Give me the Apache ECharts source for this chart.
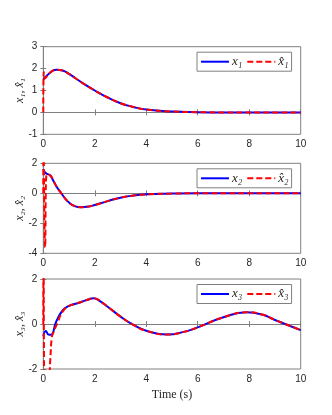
<!DOCTYPE html>
<html>
<head>
<meta charset="utf-8">
<script src="https://cdn.jsdelivr.net/npm/echarts@6/dist/echarts.min.js"></script>
<style>
  html, body { margin: 0; padding: 0; background: #fff; }
  #chart { width: 332px; height: 415px; }
</style>
</head>
<body>
<div id="chart"></div>
<script>
// data
const tX1 = [0, 0.25, 0.5, 0.75, 1, 1.25, 1.5, 2, 2.5, 3, 3.5, 4, 5, 6, 7, 8, 9, 10]
const x1 = [1.5, 1.8, 1.95, 1.91, 1.76, 1.56, 1.36, 1.0, 0.68, 0.42, 0.25, 0.13, 0.04, 0.01, 0, 0, 0, 0]
const tXh1 = [0, 0.02, 0.06, 0.25, 0.5, 0.75, 1, 1.25, 1.5, 2, 2.5, 3, 3.5, 4, 5, 6, 7, 8, 9, 10]
const xh1 = [0, 1.85, 1.55, 1.8, 1.95, 1.91, 1.76, 1.56, 1.36, 1.0, 0.68, 0.42, 0.25, 0.13, 0.04, 0.01, 0, 0, 0, 0]

const tX2 = [0, 0.1, 0.25, 0.4, 0.55, 0.7, 0.85, 1, 1.2, 1.45, 1.7, 2, 2.5, 3, 3.5, 4, 5, 6, 8, 10]
const x2 = [1.6, 1.33, 1.22, 0.8, 0.35, 0.0, -0.35, -0.62, -0.84, -0.93, -0.9, -0.78, -0.52, -0.29, -0.15, -0.07, -0.02, 0, 0, 0]
const tXh2 = [0, 0.01, 0.07, 0.13, 0.25, 0.4, 0.55, 0.7, 0.85, 1, 1.2, 1.45, 1.7, 2, 2.5, 3, 3.5, 4, 5, 6, 8, 10]
const xh2 = [0, 2.6, -3.6, 1.25, 1.22, 0.8, 0.35, 0.0, -0.35, -0.62, -0.84, -0.93, -0.9, -0.78, -0.52, -0.29, -0.15, -0.07, -0.02, 0, 0, 0]

const tX3 = [0, 0.1, 0.2, 0.3, 0.5, 0.75, 1, 1.25, 1.5, 1.75, 1.95, 2.2, 2.5, 3, 3.5, 4, 4.8, 5.5, 6, 7, 7.9, 8.5, 9, 10]
const x3 = [-0.53, -0.31, -0.47, -0.48, 0.1, 0.6, 0.81, 0.9, 0.99, 1.09, 1.15, 1.02, 0.77, 0.33, -0.04, -0.3, -0.47, -0.34, -0.15, 0.3, 0.52, 0.42, 0.18, -0.27]
const tXh3 = [0, 0.01, 0.05, 0.2, 0.27, 0.33, 0.4, 0.55, 0.75, 1, 1.25, 1.5, 1.75, 1.95, 2.2, 2.5, 3, 3.5, 4, 4.8, 5.5, 6, 7, 7.9, 8.5, 9, 10]
const xh3 = [0, 2.6, -2.6, -2.6, -1.6, -0.6, -0.35, 0.05, 0.55, 0.8, 0.9, 0.99, 1.09, 1.15, 1.02, 0.77, 0.33, -0.04, -0.3, -0.47, -0.34, -0.15, 0.3, 0.52, 0.42, 0.18, -0.27]

const yRanges = [[-1, 3, 1], [-4, 2, 2], [-2, 2, 2]]
const yNames = ['x\u2081, x\u0302\u2081', 'x\u2082, x\u0302\u2082', 'x\u2083, x\u0302\u2083']
const legendNames = [['x1', 'xh1'], ['x2', 'xh2'], ['x3', 'xh3']]
const legendLabels = {
  x1: 'x\u2081', xh1: 'x\u0302\u2081',
  x2: 'x\u2082', xh2: 'x\u0302\u2082',
  x3: 'x\u2083', xh3: 'x\u0302\u2083'
}

const pairs = (t, v) => t.map((tt, i) => [tt, v[i]])

const axisColor = '#808080'
const textColor = '#262626'
const gridTops = [46.7, 163.3, 279]
const gridHeights = [87.6, 90, 90]

const chart = echarts.init(document.getElementById('chart'), null, { renderer: 'canvas' })

const grid = gridTops.map((top, i) => ({
  left: 43.3, top: top, width: 257.4, height: gridHeights[i],
  outerBoundsMode: 'none',
  show: true, borderColor: axisColor, borderWidth: 1, backgroundColor: '#fff'
}))

const tickStyle = { show: true, inside: true, length: 3, lineStyle: { color: axisColor } }
const xAxis = []
const yAxis = []
for (let i = 0; i < 3; i++) {
  // bottom axis with labels
  xAxis.push({
    type: 'value', gridIndex: i, min: 0, max: 10, interval: 2,
    axisLine: { show: true, lineStyle: { color: axisColor } },
    axisTick: tickStyle,
    axisLabel: { color: textColor, fontFamily: 'Liberation Sans', fontSize: 10, margin: 5 },
    splitLine: { show: false },
    name: i === 2 ? 'Time (s)' : '',
    nameLocation: 'middle', nameGap: 20,
    nameTextStyle: { color: textColor, fontFamily: 'Liberation Serif', fontSize: 12 }
  })
  // top axis, ticks only
  xAxis.push({
    type: 'value', gridIndex: i, min: 0, max: 10, interval: 2, position: 'top',
    axisLine: { show: true, lineStyle: { color: axisColor } },
    axisTick: tickStyle,
    axisLabel: { show: false }, splitLine: { show: false }
  })
  const r = yRanges[i]
  yAxis.push({
    type: 'value', gridIndex: i, min: r[0], max: r[1], interval: r[2],
    axisLine: { show: true, lineStyle: { color: axisColor } },
    axisTick: tickStyle,
    axisLabel: { color: textColor, fontFamily: 'Liberation Sans', fontSize: 10, margin: 6 },
    splitLine: { show: false },
    name: yNames[i], nameLocation: 'middle', nameGap: 17, nameRotate: 90,
    nameMoveOverlap: false,
    nameTextStyle: { color: textColor, fontFamily: 'Liberation Serif', fontStyle: 'italic', fontSize: 12 }
  })
  yAxis.push({
    type: 'value', gridIndex: i, min: r[0], max: r[1], interval: r[2], position: 'right',
    axisLine: { show: true, lineStyle: { color: axisColor } },
    axisTick: tickStyle,
    axisLabel: { show: false }, splitLine: { show: false }
  })
}

const legend = legendNames.map((names, i) => ({
  data: names,
  left: 197, top: gridTops[i] + 5.5,
  orient: 'horizontal',
  itemWidth: 28, itemHeight: 10, itemGap: 4,
  padding: [3, 3, 3, 3],
  borderColor: axisColor, borderWidth: 1, borderRadius: 0,
  backgroundColor: '#fff',
  selectedMode: false,
  itemStyle: { opacity: 0 },
  formatter: (name) => legendLabels[name],
  textStyle: { color: textColor, fontFamily: 'Liberation Serif', fontStyle: 'italic', fontSize: 13, padding: [0, 0, 0, -2] }
}))

const lineSeries = (name, idx, data, solid) => ({
  name: name, type: 'line',
  xAxisIndex: idx * 2, yAxisIndex: idx * 2,
  data: data, symbol: 'none', showSymbol: false,
  smooth: 0.5,
  clip: true, animation: false,
  lineStyle: solid
    ? { color: '#0000ff', width: 2, type: 'solid' }
    : { color: '#ff0000', width: 2, type: [6, 3] },
  itemStyle: { color: solid ? '#0000ff' : '#ff0000' },
  z: solid ? 2 : 3
})

const series = [
  lineSeries('x1', 0, pairs(tX1, x1), true),
  lineSeries('xh1', 0, pairs(tXh1, xh1), false),
  lineSeries('x2', 1, pairs(tX2, x2), true),
  lineSeries('xh2', 1, pairs(tXh2, xh2), false),
  lineSeries('x3', 2, pairs(tX3, x3), true),
  lineSeries('xh3', 2, pairs(tXh3, xh3), false)
]

chart.setOption({
  backgroundColor: '#fff',
  animation: false,
  grid: grid,
  xAxis: xAxis,
  yAxis: yAxis,
  legend: legend,
  series: series
})
</script>
</body>
</html>
